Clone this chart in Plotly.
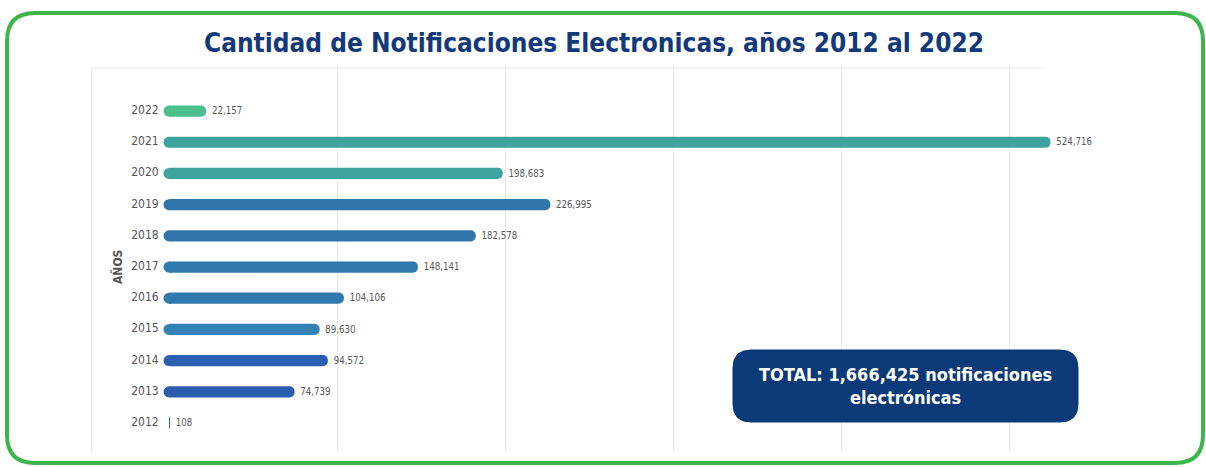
import plotly.graph_objects as go

years = ["2012", "2013", "2014", "2015", "2016", "2017", "2018", "2019", "2020", "2021", "2022"]
values = [108, 74739, 94572, 89630, 104106, 148141, 182578, 226995, 198683, 524716, 22157]
bar_colors = ["#2a5db0", "#2a5db0", "#2b5fb1", "#3481b5", "#3079af", "#3079af",
              "#2f74ab", "#2f74ab", "#3fa39d", "#3fa39d", "#4dbf8f"]
title_text = "Cantidad de Notificaciones Electronicas, años 2012 al 2022"
total_text = "TOTAL: 1,666,425 notificaciones<br>electrónicas"
axis_title = "AÑOS"

W, H = 1206, 467
L, R, T, B = 92, 1120, 68, 452  # plot area in pixels
GRID_R = 1042
FONT = "DejaVu Sans Condensed, sans-serif"
BAR_PX = 11


def px(x, y):
    return (x - L) / (R - L), (B - y) / (B - T)


def rounded_path(x0, y0, x1, y1, r):
    def P(x, y):
        a, b = px(x, y)
        return f"{a:.5f},{b:.5f}"
    d = "M " + P(x0 + r, y0)
    d += " L " + P(x1 - r, y0)
    d += " Q " + P(x1, y0) + " " + P(x1, y0 + r)
    d += " L " + P(x1, y1 - r)
    d += " Q " + P(x1, y1) + " " + P(x1 - r, y1)
    d += " L " + P(x0 + r, y1)
    d += " Q " + P(x0, y1) + " " + P(x0, y1 - r)
    d += " L " + P(x0, y0 + r)
    d += " Q " + P(x0, y0) + " " + P(x0 + r, y0)
    d += " Z"
    return d


fig = go.Figure()
fig.add_trace(go.Bar(
    y=years, x=values, orientation="h",
    marker=dict(color=bar_colors, line=dict(width=0)),
    width=0.36,
    texttemplate=" %{x:,}", textposition="outside",
    textfont=dict(family=FONT, size=12, color="#595959"),
    cliponaxis=False, hoverinfo="skip",
))
# rounded start caps
fig.add_trace(go.Scatter(
    y=years, x=[0] * len(years), mode="markers",
    marker=dict(color=bar_colors, size=[BAR_PX if v > 1000 else 0 for v in values],
                opacity=1, line=dict(width=0)),
    cliponaxis=False, hoverinfo="skip",
))
fig.add_trace(go.Scatter(
    y=years, x=[0] * len(years), mode="text", text=[y + "   " for y in years],
    textposition="middle left",
    textfont=dict(family=FONT, size=12, color="#555555"),
    cliponaxis=False, hoverinfo="skip",
))

scale = 0.00168
zero_px = 169
xmin = -(zero_px - L) / scale
xmax = (R - zero_px) / scale

fig.update_layout(
    width=W, height=H,
    margin=dict(l=L, r=W - R, t=T, b=H - B),
    paper_bgcolor="white", plot_bgcolor="white",
    showlegend=False,
    barcornerradius=5,
    title=dict(text=f"<b>{title_text}</b>", x=594 / W, xanchor="center",
               y=1 - 43 / H, yanchor="middle",
               font=dict(family=FONT, size=26, color="#12397a")),
    xaxis=dict(range=[xmin, xmax], tickvals=[100000, 200000, 300000, 400000, 500000],
               showgrid=True, gridcolor="#e4e9eb", gridwidth=1, zeroline=False,
               showticklabels=False, showline=False, ticks=""),
    yaxis=dict(type="category", categoryorder="array", categoryarray=years,
               range=[-0.93, 11.38], showticklabels=False, showgrid=False,
               zeroline=False, showline=True, linecolor="#e4e9eb", ticks=""),
    shapes=[
        dict(type="line", xref="paper", yref="paper",
             x0=0, x1=px(GRID_R, 0)[0], y0=1, y1=1,
             line=dict(color="#e4e9eb", width=1), layer="below"),
        dict(type="path", xref="paper", yref="paper",
             path=rounded_path(7, 13, 1203, 463, 28),
             line=dict(color="#3db54a", width=4), fillcolor="rgba(0,0,0,0)", layer="above"),
        dict(type="path", xref="paper", yref="paper",
             path=rounded_path(733, 350, 1078, 422, 18),
             line=dict(color="#0b3a78", width=1), fillcolor="#0b3a78", layer="above"),
    ],
    annotations=[
        dict(text=f"<b>{axis_title}</b>", xref="paper", yref="paper",
             x=px(117, 267)[0], y=px(117, 267)[1], textangle=-90, showarrow=False,
             font=dict(family=FONT, size=12, color="#555555"),
             xanchor="center", yanchor="middle"),
        dict(text=f"<b>{total_text}</b>", xref="paper", yref="paper",
             x=px(905, 386)[0], y=px(905, 386)[1], showarrow=False,
             font=dict(family=FONT, size=18, color="white"),
             xanchor="center", yanchor="middle", align="center"),
    ],
)

fig.write_html("out.html", config={"displayModeBar": False},
               post_script="document.body.style.margin='0';")
